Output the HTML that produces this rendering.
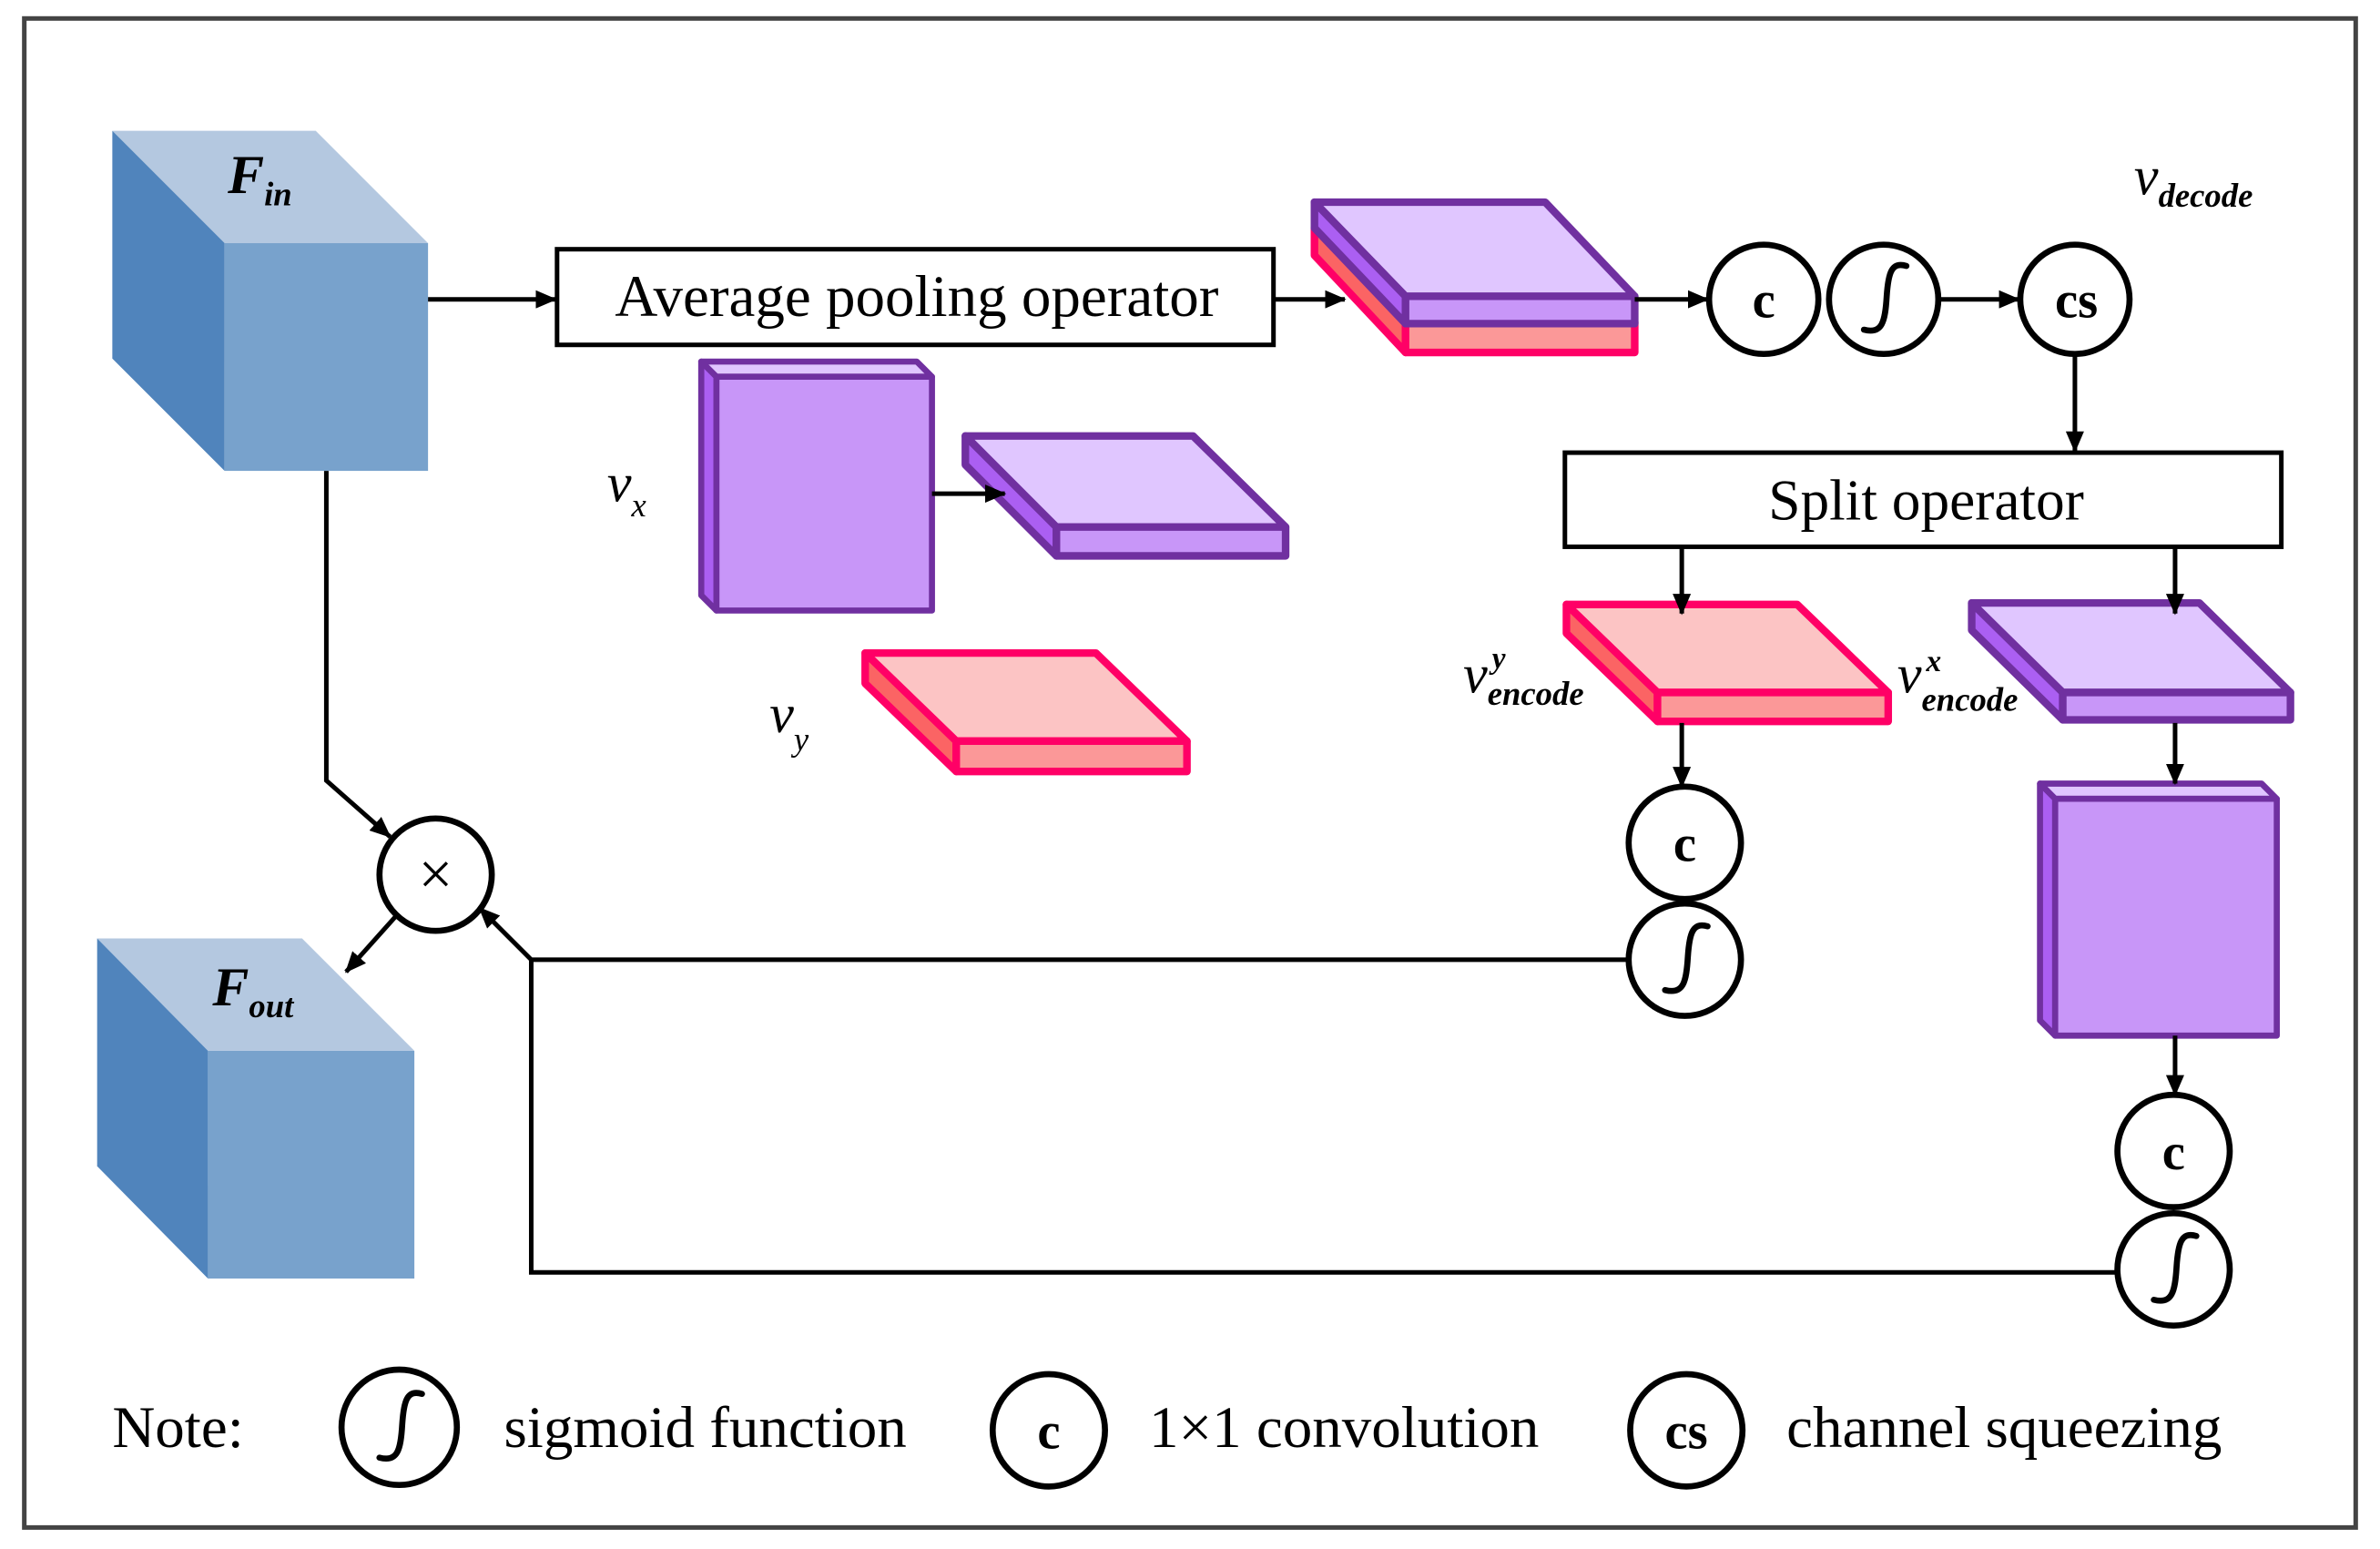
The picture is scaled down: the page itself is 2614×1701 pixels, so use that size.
<!DOCTYPE html>
<html><head><meta charset="utf-8"><style>html,body{margin:0;padding:0;background:#fff}svg{display:block}</style></head><body>
<svg width="2614" height="1701" viewBox="0 0 1568 1020" xmlns="http://www.w3.org/2000/svg" font-family="'Liberation Serif', serif">
<defs><marker id="b" markerWidth="14" markerHeight="12" refX="13" refY="6" orient="auto" markerUnits="userSpaceOnUse"><path d="M0,0 L14,6 L0,12 z" fill="#000"/></marker></defs>
<rect x="16" y="12" width="1536" height="994" fill="#fff" stroke="#444" stroke-width="3"/>
<g><polygon points="74,86 208,86 282,160 148,160" fill="#b4c8e0"/><polygon points="74,86 148,160 148,310 74,236" fill="#5084bc"/><rect x="148" y="160" width="134" height="150" fill="#78a2cc"/></g>
<text x="150" y="127" font-size="36" font-style="italic" font-weight="bold">F<tspan font-size="22" dy="8">in</tspan></text>
<g><polygon points="64,618 199,618 273,692 137,692" fill="#b4c8e0"/><polygon points="64,618 137,692 137,842 64,768" fill="#5084bc"/><rect x="137" y="692" width="136" height="150" fill="#78a2cc"/></g>
<text x="140" y="662" font-size="36" font-style="italic" font-weight="bold">F<tspan font-size="22" dy="8">out</tspan></text>
<g stroke="#000" stroke-width="3" fill="none">
<rect x="367" y="164" width="472" height="63" fill="#fff"/>
<rect x="1031" y="298" width="472" height="62" fill="#fff"/>
</g>
<text x="604" y="208" font-size="39" text-anchor="middle">Average pooling operator</text>
<text x="1269" y="342" font-size="38" text-anchor="middle">Split operator</text>
<g stroke-linejoin="round" stroke-width="5">
<g stroke="#ff0066"><polygon points="866,150 1018,150 1077,212 926,212" fill="#fcc4c4"/><polygon points="866,150 926,212 926,232 866,168" fill="#fb6464"/><rect x="926" y="212" width="151" height="20" fill="#fb9898"/></g>
<g stroke="#7030a0"><polygon points="866,133 1018,133 1077,195 926,195" fill="#e0c6ff"/><polygon points="866,133 926,195 926,213 866,150" fill="#ab5ff2"/><rect x="926" y="195" width="151" height="18" fill="#c896f8"/></g>
<g stroke="#7030a0"><polygon points="636,287 786,287 847,347 696,347" fill="#e0c6ff"/><polygon points="636,287 696,347 696,366 636,306" fill="#ab5ff2"/><rect x="696" y="347" width="151" height="19" fill="#c896f8"/></g>
<g stroke="#ff0066"><polygon points="570,430 722,430 782,488 630,488" fill="#fcc4c4"/><polygon points="570,430 630,488 630,508 570,450" fill="#fb6464"/><rect x="630" y="488" width="152" height="20" fill="#fb9898"/></g>
<g stroke="#ff0066"><polygon points="1032,398 1184,398 1244,456 1092,456" fill="#fcc4c4"/><polygon points="1032,398 1092,456 1092,475 1032,417" fill="#fb6464"/><rect x="1092" y="456" width="152" height="19" fill="#fb9898"/></g>
<g stroke="#7030a0"><polygon points="1299,397 1449,397 1509,456 1359,456" fill="#e0c6ff"/><polygon points="1299,397 1359,456 1359,474 1299,415" fill="#ab5ff2"/><rect x="1359" y="456" width="150" height="18" fill="#c896f8"/></g>
<g stroke="#7030a0" stroke-width="4"><polygon points="462,238 604,238 614,248 472,248" fill="#e0c6ff"/><polygon points="462,238 472,248 472,402 462,392" fill="#ab5ff2"/><rect x="472" y="248" width="142" height="154" fill="#c896f8"/></g>
<g stroke="#7030a0" stroke-width="4"><polygon points="1344,516 1490,516 1500,526 1354,526" fill="#e0c6ff"/><polygon points="1344,516 1354,526 1354,682 1344,672" fill="#ab5ff2"/><rect x="1354" y="526" width="146" height="156" fill="#c896f8"/></g>
</g>
<g stroke="#000" stroke-width="3" fill="none">
<line x1="282" y1="197" x2="366" y2="197" marker-end="url(#b)"/>
<line x1="839" y1="197" x2="886" y2="197" marker-end="url(#b)"/>
<line x1="1077" y1="197" x2="1125" y2="197" marker-end="url(#b)"/>
<line x1="1278" y1="197" x2="1330" y2="197" marker-end="url(#b)"/>
<line x1="1367" y1="233" x2="1367" y2="297" marker-end="url(#b)"/>
<line x1="1108" y1="360" x2="1108" y2="404" marker-end="url(#b)"/>
<line x1="1433" y1="360" x2="1433" y2="404" marker-end="url(#b)"/>
<line x1="1108" y1="476" x2="1108" y2="518" marker-end="url(#b)"/>
<line x1="1433" y1="476" x2="1433" y2="516" marker-end="url(#b)"/>
<line x1="1433" y1="682" x2="1433" y2="721" marker-end="url(#b)"/>
<line x1="614" y1="325" x2="662" y2="325" marker-end="url(#b)"/>
<polyline points="215,310 215,514 257,551" marker-end="url(#b)"/>
<line x1="262" y1="602" x2="228" y2="640" marker-end="url(#b)"/>
<polyline points="1074,632 350,632 316,598" marker-end="url(#b)"/>
<polyline points="1396,838 350,838 350,632"/>
</g>
<g stroke="#000" stroke-width="4" fill="#fff">
<circle cx="1162" cy="197" r="36"/><circle cx="1241" cy="197" r="36"/><circle cx="1367" cy="197" r="36"/>
<circle cx="1110" cy="555" r="37"/><circle cx="1110" cy="632" r="37"/>
<circle cx="1432" cy="758" r="37"/><circle cx="1432" cy="836" r="37"/>
<circle cx="287" cy="576" r="37"/>
<circle cx="263" cy="940" r="38"/><circle cx="691" cy="942" r="37"/><circle cx="1111" cy="942" r="37"/>
</g>
<g font-size="34" font-weight="bold" text-anchor="middle">
<text x="1162" y="209">c</text><text x="1368" y="209">cs</text><text x="1110" y="567">c</text><text x="1432" y="770">c</text><text x="691" y="954">c</text><text x="1111" y="954">cs</text>
</g>
<g stroke="#000" stroke-width="4" fill="none" stroke-linecap="round">
<path d="M1256,175 C1246,172 1244,180 1243,195 C1242,212 1240,220 1228,217"/>
<path d="M1125,610 C1115,607 1113,615 1112,630 C1111,647 1109,655 1097,652"/>
<path d="M1447,814 C1437,811 1435,819 1434,834 C1433,851 1431,859 1419,856"/>
<path d="M278,918 C268,915 266,923 265,938 C264,955 262,963 250,960"/>
</g>
<text x="287" y="589" font-size="40" text-anchor="middle">×</text>
<g font-style="italic" font-size="36">
<text x="1406" y="128">v<tspan font-size="22" dy="8" font-weight="bold">decode</tspan></text>
<text x="400" y="330">v<tspan font-size="22" dy="10">x</tspan></text>
<text x="507" y="482">v<tspan font-size="22" dy="12">y</tspan></text>
<text x="964" y="456">v</text><text x="983" y="440" font-size="20" font-weight="bold">y</text><text x="980" y="464" font-size="22" font-weight="bold">encode</text>
<text x="1250" y="456">v</text><text x="1269" y="442" font-size="20" font-weight="bold">x</text><text x="1266" y="468" font-size="22" font-weight="bold">encode</text>
</g>
<g font-size="39">
<text x="74" y="953">Note:</text>
<text x="332" y="953">sigmoid function</text>
<text x="757" y="953">1×1 convolution</text>
<text x="1177" y="953">channel squeezing</text>
</g>
</svg>
</body></html>
